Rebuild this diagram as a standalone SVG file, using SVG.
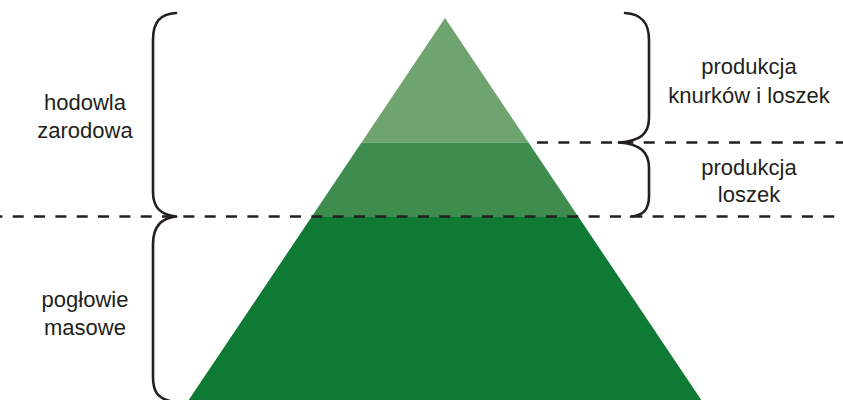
<svg xmlns="http://www.w3.org/2000/svg" width="843" height="400" viewBox="0 0 843 400">
<style>
.t{font-family:"Liberation Sans",Arial,sans-serif;font-size:22px;fill:#231f20;text-anchor:middle}
.br{fill:none;stroke:#231f20;stroke-width:2.6;stroke-linecap:round;stroke-linejoin:round}
.ds{fill:none;stroke:#231f20;stroke-width:2.7;stroke-dasharray:11 10.33}
</style>
<rect width="843" height="400" fill="#ffffff"/>
<g id="pyramid">
<polygon id="top-band" points="445,18 361.5,142.5 528.5,142.5" fill="#6da46f"/>
<polygon id="middle-band" points="361.5,142.5 528.5,142.5 578.5,217 311.5,217" fill="#3f8c4f"/>
<polygon id="bottom-band" points="311.5,217 578.5,217 701.3,400 188.7,400" fill="#0e7a34"/>
</g>
<g id="connectors">
<line class="ds" x1="-8.6" y1="216.5" x2="843" y2="216.5"/>
<line class="ds" x1="528" y1="142.5" x2="843" y2="142.5" stroke-dashoffset="12.3"/>
<path class="br" d="M176,13 C160,14 153,22 153,40 L153,192 C153,208 161,215 176,216.5"/>
<path class="br" d="M176,216.5 C162,218 153,226 153,244 L153,377 C153,392 158,398 170,401"/>
<path class="br" d="M625,13 C641,14 649,22 649,40 L649,118 C649,134 640,141 619,142.5"/>
<path class="br" d="M619,142.5 C640,144 649,152 649,168 L649,196 C649,210 643,215.5 631,216.5"/>
</g>
<g id="label-hodowla">
<text class="t" x="85" y="110">hodowla</text>
<text class="t" x="85" y="138">zarodowa</text>
</g>
<g id="label-poglowie">
<text class="t" x="85" y="307">pogłowie</text>
<text class="t" x="85" y="335">masowe</text>
</g>
<g id="label-knurkow">
<text class="t" x="749" y="74">produkcja</text>
<text class="t" x="749" y="103">knurków i loszek</text>
</g>
<g id="label-loszek">
<text class="t" x="749" y="175">produkcja</text>
<text class="t" x="749" y="202">loszek</text>
</g>
</svg>
